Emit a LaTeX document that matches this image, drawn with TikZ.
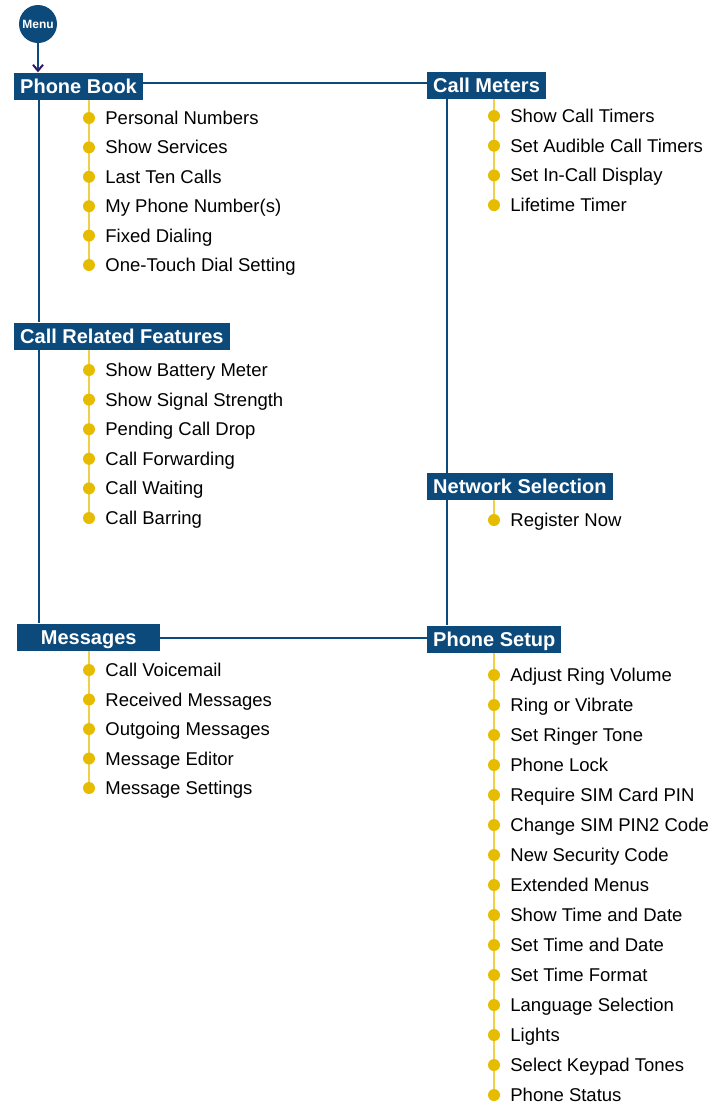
\documentclass[tikz,border=0pt]{standalone}
\usepackage{fontspec}
\setmainfont{Liberation Sans}
\usetikzlibrary{positioning, arrows.meta, backgrounds}

\definecolor{menublue}{RGB}{12,74,124}
\definecolor{menugold}{RGB}{230,188,0}
\definecolor{menuline}{RGB}{240,208,72}
\definecolor{menuarrow}{RGB}{52,22,98}

\tikzset{
	every block/.style={fill=menublue, text=white, anchor=west,
		font=\fontsize{20}{24}\selectfont\bfseries,
		inner xsep=6pt, inner ysep=0pt, text height=15pt, text depth=1pt,
		minimum height=27pt},
	block item/.style={inner sep=0pt, text height=13pt, text depth=0pt,
		font=\fontsize{18.5}{22}\selectfont},
	block dot/.style={circle, fill=menugold, inner sep=0pt, minimum size=12pt},
	trunk/.style={draw=menublue, line width=2pt},
	twig/.style={draw=menuline, line width=1.6pt},
}

\begin{document}
\begin{tikzpicture}[x=1pt, y=-1pt, >=Straight Barb]

		\useasboundingbox (0,0) rectangle (712,1106);

		% Menu
		\node [circle, fill=menublue, text=white, minimum size=38pt, inner sep=0pt,
			font=\fontsize{12}{13}\selectfont\bfseries] (menu) at (38,24) {Menu};

		% Headers
		\node [every block/.try] (book) at (14,86) {Phone Book};
		\node [every block/.try] (meters) at (427,85.5) {Call Meters};
		\node [every block/.try] (related) at (14,336) {Call Related Features};
		\node [every block/.try] (network) at (427,486.5) {Network Selection};
		\node [every block/.try, minimum width=143pt] (messages) at (17,637) {Messages};
		\node [every block/.try] (setup) at (427,639) {Phone Setup};

		% Phone Book
		\foreach \t [count=\i] in {Personal Numbers, Show Services, Last Ten Calls,
			My Phone Number(s), Fixed Dialing, One-Touch Dial Setting}
		{
			\node [block dot/.try] (book-d\i) at (89, 118+29.4*\i-29.4) {};
			\node [block item/.try, right=10pt of book-d\i] (book-t\i) {\t};
		}

		% Call Meters
		\foreach \t [count=\i] in {Show Call Timers, Set Audible Call Timers,
			Set In-Call Display, Lifetime Timer}
		{
			\node [block dot/.try] (meters-d\i) at (494, 116+29.7*\i-29.7) {};
			\node [block item/.try, right=10pt of meters-d\i] (meters-t\i) {\t};
		}

		% Call Related Features
		\foreach \t [count=\i] in {Show Battery Meter, Show Signal Strength,
			Pending Call Drop, Call Forwarding, Call Waiting, Call Barring}
		{
			\node [block dot/.try] (related-d\i) at (89, 370+29.6*\i-29.6) {};
			\node [block item/.try, right=10pt of related-d\i] (related-t\i) {\t};
		}

		% Network Selection
		\node [block dot/.try] (network-d1) at (494,520) {};
		\node [block item/.try, right=10pt of network-d1] (network-t1) {Register Now};

		% Messages
		\foreach \t [count=\i] in {Call Voicemail, Received Messages,
			Outgoing Messages, Message Editor, Message Settings}
		{
			\node [block dot/.try] (messages-d\i) at (89, 670+29.5*\i-29.5) {};
			\node [block item/.try, right=10pt of messages-d\i] (messages-t\i) {\t};
		}

		% Phone Setup
		\foreach \t [count=\i] in {Adjust Ring Volume, Ring or Vibrate, Set Ringer Tone,
			Phone Lock, Require SIM Card PIN, Change SIM PIN2 Code, New Security Code,
			Extended Menus, Show Time and Date, Set Time and Date, Set Time Format,
			Language Selection, Lights, Select Keypad Tones, Phone Status}
		{
			\node [block dot/.try] (setup-d\i) at (494, 675+30*\i-30) {};
			\node [block item/.try, right=10pt of setup-d\i] (setup-t\i) {\t};
		}

		% Item lines
		\begin{scope}[on background layer]
			\draw [twig] (book-d1 |- book.south) -- (book-d6);
			\draw [twig] (meters-d1 |- meters.south) -- (meters-d4);
			\draw [twig] (related-d1 |- related.south) -- (related-d6);
			\draw [twig] (network-d1 |- network.south) -- (network-d1);
			\draw [twig] (messages-d1 |- messages.south) -- (messages-d5);
			\draw [twig] (setup-d1 |- setup.south) -- (setup-d15);
		\end{scope}

		% Menu links
		\draw [trunk, -{Straight Barb[color=menuarrow, length=6pt, width=10pt]}]
			(menu) -- (menu |- book.north);
		\draw [trunk] ([yshift=3pt]book.east) -- ([yshift=3pt]book.east -| meters.west);
		\draw [trunk] ([xshift=25pt]book.south west) -- ([xshift=25pt]related.north west);
		\draw [trunk] ([xshift=25pt]related.south west) -- ([xshift=25pt]related.south west |- messages.north);
		\draw [trunk] ([xshift=20pt]meters.south west) -- ([xshift=20pt]network.north west);
		\draw [trunk] ([xshift=20pt]network.south west) -- ([xshift=20pt]network.south west |- setup.north);
		\draw [trunk] ([yshift=-1pt]messages.east) -- ([yshift=-1pt]messages.east -| setup.west);

\end{tikzpicture}
\end{document}
